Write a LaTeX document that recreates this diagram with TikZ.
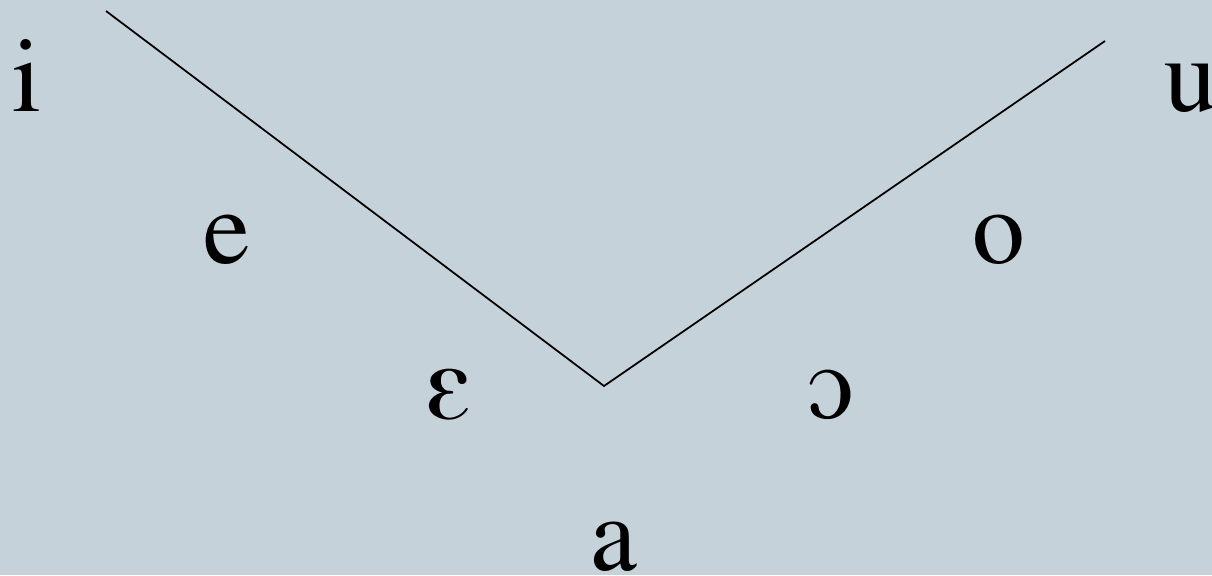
\documentclass[tikz,border=0pt]{standalone}
\usepackage[T1]{fontenc}
\usepackage{times}
\usepackage{tipa}
\usepackage{tikz}
\usetikzlibrary{positioning}
\usetikzlibrary{calc}

\definecolor{bgblue}{HTML}{C6D2DA}

\begin{document}
\begin{tikzpicture}[x=0.01cm, y=-0.01cm, every node/.style={anchor=base, inner sep=0pt, font=\fontsize{30}{36}\selectfont}]

        % background and page size
        \fill[bgblue] (0, 0) rectangle (1212, 575);
        \useasboundingbox (0, 0) rectangle (1212, 575);

        \coordinate (top left) at (106, 11);
        \coordinate (bottom) at (604, 386);
        \coordinate (top right) at (1105, 41);

        \draw[line width=0.5pt] (top left) -- (bottom) -- (top right);

        \node (i) at (27, 111) {i};
        \node (u) at (1191, 111) {u};
        \node (e) at (227, 263) {e};
        \node (o) at (999, 263) {o};
        \node (eps) at (449, 418) {\textepsilon};
        \node (open o) at (831, 418) {\textopeno};
        \node (a) at (614, 570) {a};

      \end{tikzpicture}
\end{document}
